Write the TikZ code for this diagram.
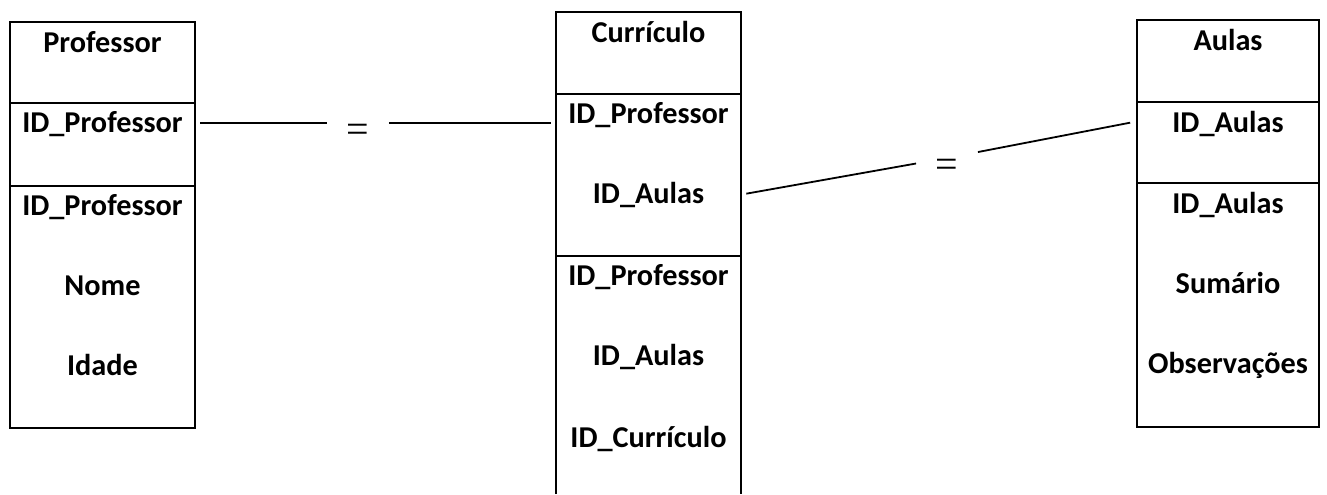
\documentclass[tikz,border=0pt]{standalone}
\usepackage{fontspec}
\setmainfont{Carlito}
\newfontfamily\eqfont{Liberation Serif}
\usetikzlibrary{positioning}

\tikzset{
  tblline/.style={line width=1.5pt},
  fld/.style={inner sep=0pt, anchor=base, text height=14pt, text depth=0pt,
    font=\fontsize{22.7}{27}\selectfont\bfseries},
  keyfld/.style={fld, minimum width=138.75pt, outer xsep=4pt},
  eqsign/.style={inner sep=0pt, minimum width=46pt, text height=29pt, text depth=0pt,
    font=\eqfont\fontsize{30}{34}\selectfont},
  link/.style={line width=1.35pt}
}

\begin{document}
\begin{tikzpicture}[x=0.75pt,y=0.75pt,yscale=-1,xscale=1]
\useasboundingbox (0,0) rectangle (1327,494);

%Shape: Rectangle [Professor]
\draw [tblline] (10,22) -- (195,22) -- (195,428) -- (10,428) -- cycle ;
\draw [tblline] (10,103) -- (195,103) (10,186) -- (195,186) ;
%Shape: Rectangle [Curriculo]
\draw [tblline] (556,494) -- (556,12) -- (741,12) -- (741,494) ;
\draw [tblline] (556,94) -- (741,94) (556,256) -- (741,256) ;
%Shape: Rectangle [Aulas]
\draw [tblline] (1137,20) -- (1319,20) -- (1319,427) -- (1137,427) -- cycle ;
\draw [tblline] (1137,102) -- (1319,102) (1137,183) -- (1319,183) ;

% Text Node
\node [fld] (ptitle) at (102.5,52) {Professor};
\node [keyfld] (pkey) at (102.5,132) {ID\_Professor};
\node [fld] (pid) at (102.5,215) {ID\_Professor};
\node [fld] (pnome) at (102.5,295) {Nome};
\node [fld] (pidade) at (102.5,375) {Idade};
% Text Node
\node [fld] (ctitle) at (648.5,42) {Currículo};
\node [keyfld] (ckey) at (648.5,123) {ID\_Professor};
\node [keyfld] (caul) at (648.5,203) {ID\_Aulas};
\node [fld] (cprof) at (648.5,285) {ID\_Professor};
\node [fld] (caulas) at (648.5,365) {ID\_Aulas};
\node [fld] (ccurr) at (648.5,447) {ID\_Currículo};
% Text Node
\node [fld] (atitle) at (1228,50) {Aulas};
\node [keyfld] (akey) at (1228,132) {ID\_Aulas};
\node [fld] (aid) at (1228,213) {ID\_Aulas};
\node [fld] (asum) at (1228,293) {Sumário};
\node [fld] (aobs) at (1228,373) {Observações};

% Text Node
\node [eqsign] (eq1) at (pkey.east -| 358,0) {=};
\node [eqsign] (eq2) at (947,158) {=};

%Straight Lines
\draw [link] (pkey.east) -- (eq1) -- (eq1 -| ckey.west) ;
%Straight Lines
\draw [link] (caul.east) -- (eq2) -- (akey.west) ;

\end{tikzpicture}
\end{document}
